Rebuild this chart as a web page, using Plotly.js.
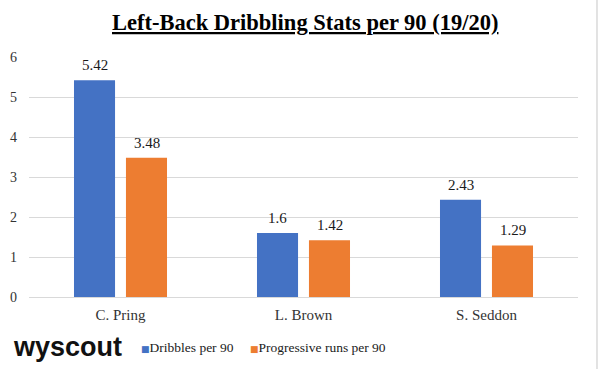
<!DOCTYPE html>
<html><head><meta charset="utf-8">
<script src="https://cdn.plot.ly/plotly-3.0.1.min.js"></script>
<style>html,body{margin:0;padding:0;background:#fff;}#chart{width:599px;height:369px;}</style>
</head><body><div id="chart"></div>
<script>
const players = ["C. Pring", "L. Brown", "S. Seddon"];
const dribbles = [5.42, 1.6, 2.43];
const progRuns = [3.48, 1.42, 1.29];
const seriesNames = ["Dribbles per 90", "Progressive runs per 90"];
const seriesColors = ["#4472C4", "#ED7D31"];
const yTicks = [0, 1, 2, 3, 4, 5, 6];

const serif = "Liberation Serif, Times New Roman, serif";
const series = [dribbles, progRuns];

const traces = series.map((vals, i) => ({
  type: "bar", x: players, y: vals, name: seriesNames[i],
  marker: {color: seriesColors[i]}, hoverinfo: "skip", showlegend: false
}));

const annotations = [];
series.forEach((vals, i) => {
  vals.forEach((v, j) => {
    annotations.push({
      x: players[j], y: v, xref: "x", yref: "y", text: String(v),
      showarrow: false, yanchor: "bottom", yshift: 5, xshift: i === 0 ? -26 : 26,
      font: {family: serif, size: 15, color: "#1a1a1a"}
    });
  });
});
// title
annotations.push({
  xref: "paper", yref: "paper", x: 0.503, y: 1, yshift: 35, xanchor: "center", yanchor: "middle",
  text: "<b><u>Left-Back Dribbling Stats per 90 (19/20)</u></b>", showarrow: false,
  font: {family: serif, size: 22.5, color: "#000"}
});
// wyscout logo
annotations.push({
  xref: "paper", yref: "paper", x: -0.033, y: 0, yshift: -50, xanchor: "left", yanchor: "middle",
  text: "<b>wyscout</b>", showarrow: false,
  font: {family: "Liberation Sans, Arial, sans-serif", size: 27, color: "#111"}
});
// legend entries
const legX = [0.2004, 0.3989];
seriesNames.forEach((n, i) => {
  annotations.push({
    xref: "paper", yref: "paper", x: legX[i], y: 0, yshift: -50, xanchor: "left", yanchor: "middle",
    text: "<span style='font-family:DejaVu Sans;font-size:9px;color:" + seriesColors[i] + "'>■</span>" + n,
    showarrow: false, font: {family: serif, size: 13.5, color: "#1a1a1a"}
  });
});

const layout = {
  width: 599, height: 369,
  margin: {l: 29, r: 21, t: 57, b: 72},
  paper_bgcolor: "#fff", plot_bgcolor: "#fff",
  barmode: "group", bargap: 0.432, bargroupgap: 0.21,
  showlegend: false,
  xaxis: {
    tickfont: {family: serif, size: 15, color: "#333"},
    showgrid: false, zeroline: false, showline: false, ticks: "", ticklabelstandoff: 7, fixedrange: true
  },
  yaxis: {
    range: [0, 6], tickvals: yTicks, ticktext: yTicks.map(String),
    tickfont: {family: serif, size: 14, color: "#333"},
    showgrid: true, gridcolor: "#d9d9d9", gridwidth: 1,
    zeroline: true, zerolinecolor: "#d9d9d9", zerolinewidth: 1,
    showline: false, ticks: "", ticklabelstandoff: 11, fixedrange: true
  },
  annotations: annotations,
  shapes: [{type: "line", xref: "paper", yref: "paper", x0: 1.0346, x1: 1.0346, y0: -0.3, y1: 1.24,
    line: {color: "#d9d9d9", width: 1.5}}]
};

Plotly.newPlot("chart", traces, layout, {displayModeBar: false, staticPlot: true});
</script></body></html>
